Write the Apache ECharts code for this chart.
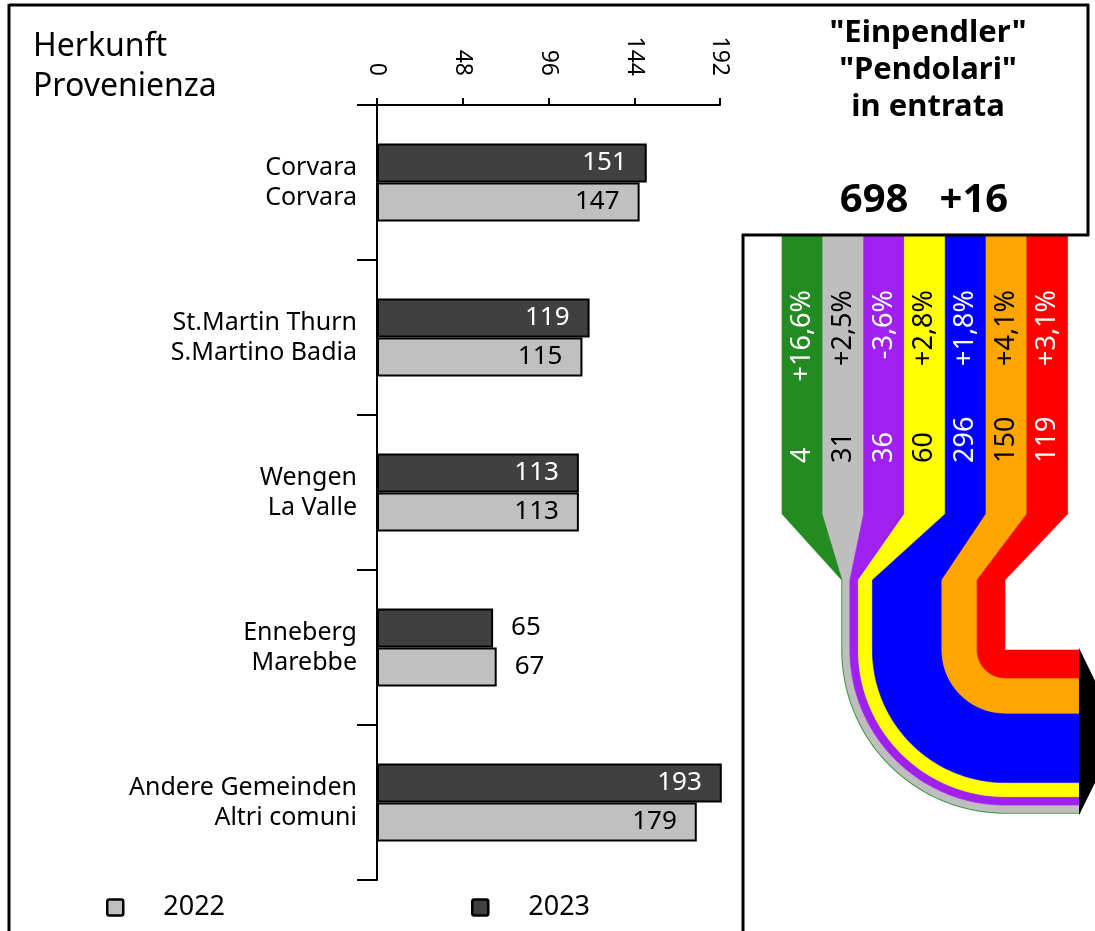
<!DOCTYPE html>
<html>
<head>
<meta charset="utf-8">
<script src="https://cdn.jsdelivr.net/npm/echarts@6/dist/echarts.min.js"></script>
<style>html,body{margin:0;padding:0;background:#fff}#c{width:1095px;height:931px}</style>
</head>
<body>
<div id="c"></div>
<script>
// ---- data ----
const categories = ['Corvara\nCorvara', 'St.Martin Thurn\nS.Martino Badia', 'Wengen\nLa Valle', 'Enneberg\nMarebbe', 'Andere Gemeinden\nAltri comuni'];
const values2023 = [151, 119, 113, 65, 193];
const values2022 = [147, 115, 113, 67, 179];
const xTickValues = [0, 48, 96, 144, 192];
const seriesNames = ['2022', '2023'];
const flowValues = [4, 31, 36, 60, 296, 150, 119];
const flowChanges = ['+16,6%', '+2,5%', '-3,6%', '+2,8%', '+1,8%', '+4,1%', '+3,1%'];
const totalCommuters = 698;
const totalChange = '+16';
const axisTitle = 'Herkunft\nProvenienza';
const panelTitle = '"Einpendler"\n"Pendolari"\nin entrata';

// ---- styles ----
const FONT = 'Noto Sans';
const flowColors = ['#228B22', '#BEBEBE', '#A020F0', '#FFFF00', '#0000FF', '#FFA500', '#FF0000'];
const flowTextColors = ['#fff', '#000', '#fff', '#000', '#fff', '#000', '#fff'];
const DARK = '#404040', LIGHT = '#C0C0C0';

function barData(vals, insideColor) {
  return vals.map(v => ({
    value: v,
    label: v < 100
      ? { position: 'right', distance: 18, color: '#000' }
      : { position: 'insideRight', distance: 20, color: insideColor }
  }));
}

// flow geometry (layout)
const colX0 = 782, colW = 40.8, colTop = 236, colBottom = 514, funnelBottom = 580;
const curveCx = 1005, curveCy = 650, flowEnd = 1080;

function renderFlow(params, api) {
  const i = params.dataIndex;
  const n = flowValues.length;
  const px = v => api.size([v, 0])[0];
  let inner = 0;
  for (let j = i + 1; j < n; j++) inner += flowValues[j];
  const rIn = px(inner), rOut = px(inner + flowValues[i]);
  const left = colX0 + i * colW, right = left + colW;
  const pts = [[left, colTop], [right, colTop], [right, colBottom], [curveCx - rIn, funnelBottom], [curveCx - rIn, curveCy]];
  const N = 48;
  for (let k = 1; k <= N; k++) {
    const a = Math.PI - (Math.PI / 2) * k / N;
    pts.push([curveCx + rIn * Math.cos(a), curveCy + rIn * Math.sin(a)]);
  }
  pts.push([flowEnd, curveCy + rIn]);
  pts.push([flowEnd, curveCy + rOut]);
  for (let k = 0; k <= N; k++) {
    const a = Math.PI / 2 + (Math.PI / 2) * k / N;
    pts.push([curveCx + rOut * Math.cos(a), curveCy + rOut * Math.sin(a)]);
  }
  pts.push([curveCx - rOut, funnelBottom]);
  pts.push([left, colBottom]);
  const cx = (left + right) / 2;
  const children = [
    { type: 'polygon', shape: { points: pts }, style: { fill: flowColors[i], stroke: flowColors[i], lineWidth: 0.6 } },
    { type: 'text', x: cx, y: 290, rotation: Math.PI / 2,
      style: { text: flowChanges[i], align: 'right', verticalAlign: 'middle', fill: flowTextColors[i], font: '27px "' + FONT + '"' } },
    { type: 'text', x: cx, y: 463, rotation: Math.PI / 2,
      style: { text: String(flowValues[i]), align: 'left', verticalAlign: 'middle', fill: flowTextColors[i], font: '27px "' + FONT + '"' } }
  ];
  if (i === 0) {
    let tot = 0; flowValues.forEach(v => tot += v);
    const h = px(tot);
    children.push({ type: 'polygon', z2: 10, shape: { points: [[flowEnd - 1, curveCy - 2], [flowEnd + 40, curveCy + h / 2], [flowEnd - 1, curveCy + h + 2]] }, style: { fill: '#000' } });
  }
  return { type: 'group', children: children };
}

const chart = echarts.init(document.getElementById('c'), null, { renderer: 'canvas' });
const line = (x1, y1, x2, y2) => ({ type: 'line', shape: { x1, y1, x2, y2 }, style: { stroke: '#000', lineWidth: 3 }, z: 100 });

chart.setOption({
  animation: false,
  backgroundColor: '#fff',
  textStyle: { fontFamily: FONT },
  grid: [
    { left: 377, top: 105, width: 343, bottom: 51 },
    { left: 743, top: 236, width: 352, height: 600 }
  ],
  xAxis: [
    {
      type: 'value', gridIndex: 0, position: 'top', min: xTickValues[0], max: xTickValues[xTickValues.length - 1],
      interval: xTickValues[1] - xTickValues[0],
      axisLine: { show: true, lineStyle: { color: '#000', width: 2 } },
      axisTick: { show: true, length: 7, lineStyle: { color: '#000', width: 2 } },
      axisLabel: { rotate: 90, margin: 29, fontSize: 23, color: '#000', fontFamily: FONT },
      splitLine: { show: false }
    },
    { type: 'value', gridIndex: 1, min: 0, max: 1500, show: false }
  ],
  yAxis: [
    {
      type: 'category', gridIndex: 0, inverse: true, data: categories,
      axisLine: { show: true, lineStyle: { color: '#000', width: 2 } },
      axisTick: { show: true, length: 20, interval: 0, lineStyle: { color: '#000', width: 2 } },
      axisLabel: { margin: 20, fontSize: 25, lineHeight: 30, color: '#000', align: 'right', fontFamily: FONT }
    },
    { type: 'value', gridIndex: 1, min: 0, max: 1, show: false }
  ],
  legend: {
    data: seriesNames, left: 106, top: 894, padding: 0, itemWidth: 16, itemHeight: 16, itemGap: 246,
    icon: 'path://M2,0 H14 Q16,0 16,2 V14 Q16,16 14,16 H2 Q0,16 0,14 V2 Q0,0 2,0 Z',
    itemStyle: { borderColor: '#000', borderWidth: 2.5 },
    textStyle: { fontSize: 27, color: '#000', padding: [0, 0, 0, 35], fontFamily: FONT }
  },
  series: [
    {
      name: '2023', type: 'bar', xAxisIndex: 0, yAxisIndex: 0, data: barData(values2023, '#fff'),
      barWidth: 39, barGap: '0%', clip: false,
      itemStyle: { color: DARK, borderColor: '#000', borderWidth: 2 },
      label: { show: true, fontSize: 26, fontFamily: FONT }
    },
    {
      name: '2022', type: 'bar', xAxisIndex: 0, yAxisIndex: 0, data: barData(values2022, '#000'),
      barWidth: 39, barGap: '0%', clip: false,
      itemStyle: { color: LIGHT, borderColor: '#000', borderWidth: 2 },
      label: { show: true, fontSize: 26, fontFamily: FONT }
    },
    {
      type: 'custom', xAxisIndex: 1, yAxisIndex: 1, renderItem: renderFlow, silent: true,
      data: flowValues.map(v => [v, 0])
    }
  ],
  graphic: [
    line(9, 5, 1089, 5), line(9, 4, 9, 931), line(1088, 4, 1088, 236), line(742, 235, 1089, 235), line(743, 234, 743, 931),
    { type: 'text', x: 33, y: 27, style: { text: axisTitle, font: '32px "' + FONT + '"', lineHeight: 40, fill: '#000' } },
    { type: 'text', x: 928, y: 15, style: { text: panelTitle, font: 'bold 31px "' + FONT + '"', lineHeight: 37, fill: '#000', align: 'center' } },
    { type: 'text', x: 924, y: 201, style: { text: totalCommuters + '   ' + totalChange, font: 'bold 40px "' + FONT + '"', fill: '#000', align: 'center', verticalAlign: 'middle' } }
  ]
});
</script>
</body>
</html>
